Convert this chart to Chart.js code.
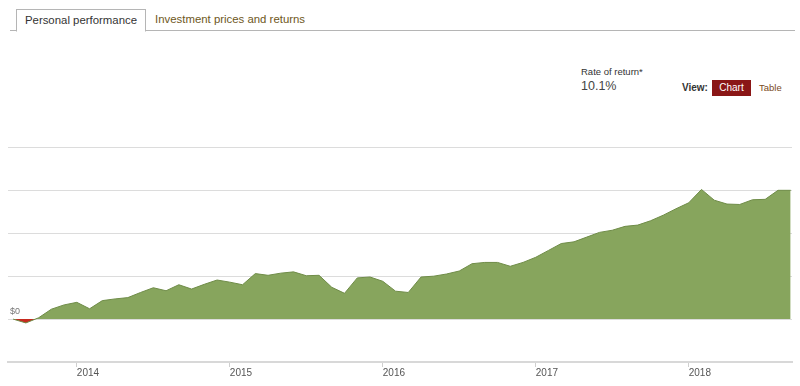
<!DOCTYPE html>
<html>
<head>
<meta charset="utf-8">
<script src="https://cdn.jsdelivr.net/npm/chart.js@4/dist/chart.umd.min.js"></script>
<style>
  html, body { margin:0; padding:0; background:#fff; width:800px; height:386px; overflow:hidden; font-family:"Liberation Sans", Arial, sans-serif; }
  .tabbar { position:absolute; left:10px; top:30px; width:785px; height:0; border-top:1px solid #b5b5b5; }
  .tab { position:absolute; top:9px; height:21px; font-size:11.4px; line-height:20px; }
  .tab.active { left:16px; width:128px; border:1px solid #b5b5b5; border-bottom:1px solid #fff; background:#fff; color:#333; text-align:center; z-index:2; }
  .tab.other { left:155px; color:#6e5722; }
  .ror-label { position:absolute; left:581px; top:66px; font-size:9.5px; line-height:12px; color:#333; }
  .ror-val { position:absolute; left:581px; top:79px; font-size:12.5px; line-height:15px; color:#444; }
  .view { position:absolute; left:682px; top:82px; font-size:10px; line-height:12px; font-weight:bold; color:#333; }
  .btn { position:absolute; left:712px; top:80px; width:39px; height:16px; background:#8a1616; color:#fff; font-size:10px; line-height:16px; text-align:center; }
  .table { position:absolute; left:759px; top:82px; font-size:9.5px; line-height:12px; color:#7a4a1c; }
  #wrap { position:absolute; left:0; top:140px; width:800px; height:246px; }
</style>
</head>
<body>
<div class="tabbar"></div>
<div class="tab active">Personal performance</div>
<div class="tab other">Investment prices and returns</div>
<div class="ror-label">Rate of return*</div>
<div class="ror-val">10.1%</div>
<div class="view">View:</div>
<div class="btn">Chart</div>
<div class="table">Table</div>
<div id="wrap"><canvas id="c"></canvas></div>
<script>
// months relative to Jan 2014 (Aug 2013 .. Sep 2018)
const months = [];
for (let m = -5; m <= 56; m++) months.push(m);
const values = [
  0.00, -0.09, 0.03, 0.23, 0.33,
  0.39, 0.24, 0.43, 0.47, 0.50, 0.62, 0.73, 0.66, 0.80, 0.70, 0.81, 0.91,
  0.86, 0.80, 1.06, 1.02, 1.07, 1.10, 1.01, 1.02, 0.74, 0.60, 0.96, 0.98,
  0.88, 0.65, 0.62, 0.98, 1.00, 1.05, 1.12, 1.29, 1.32, 1.32, 1.23, 1.32,
  1.44, 1.60, 1.76, 1.80, 1.91, 2.02, 2.07, 2.16, 2.19, 2.29, 2.42, 2.57,
  2.71, 3.02, 2.77, 2.68, 2.67, 2.78, 2.79, 3.00, 3.00
];
const yearTicks = [0, 12, 24, 36, 48];
const yearLabels = ['2014', '2015', '2016', '2017', '2018'];
const yGrid = [-1, 0, 1, 2, 3, 4];

const points = months.map((m, i) => ({ x: m, y: values[i] }));

new Chart(document.getElementById('c'), {
  type: 'line',
  data: {
    datasets: [{
      data: points,
      borderColor: '#6f8c48',
      borderWidth: 1,
      pointRadius: 0,
      tension: 0,
      fill: { target: 'origin', above: '#87a55d', below: '#c62a1f' }
    }]
  },
  options: {
    responsive: true,
    maintainAspectRatio: false,
    animation: false,
    layout: { padding: { left: 8, right: 8, top: 7, bottom: 0 } },
    plugins: { legend: { display: false }, tooltip: { enabled: false } },
    scales: {
      x: {
        type: 'linear',
        min: -5.4,
        max: 56.1,
        afterBuildTicks: (s) => { s.ticks = yearTicks.map(v => ({ value: v })); },
        afterFit: (s) => { s.height = 24; },
        grid: { drawOnChartArea: false, drawTicks: true, tickLength: 5, color: '#cfcfcf' },
        border: { display: true, color: '#d8d8d8', width: 2 },
        ticks: {
          align: 'start',
          padding: 0,
          color: '#555',
          font: { family: 'Liberation Sans', size: 10 },
          callback: (v) => { const i = yearTicks.indexOf(v); return i >= 0 ? yearLabels[i] : ''; }
        }
      },
      y: {
        min: -1,
        max: 4,
        afterBuildTicks: (s) => { s.ticks = yGrid.map(v => ({ value: v })); },
        afterFit: (s) => { s.width = 0; },
        grid: { color: '#dcdcdc', lineWidth: 1, drawTicks: false },
        border: { display: false },
        ticks: {
          mirror: true,
          padding: 2,
          labelOffset: -8,
          color: '#777',
          font: { family: 'Liberation Sans', size: 9 },
          callback: (v) => v === 0 ? '$0' : ''
        }
      }
    }
  }
});
</script>
</body>
</html>
